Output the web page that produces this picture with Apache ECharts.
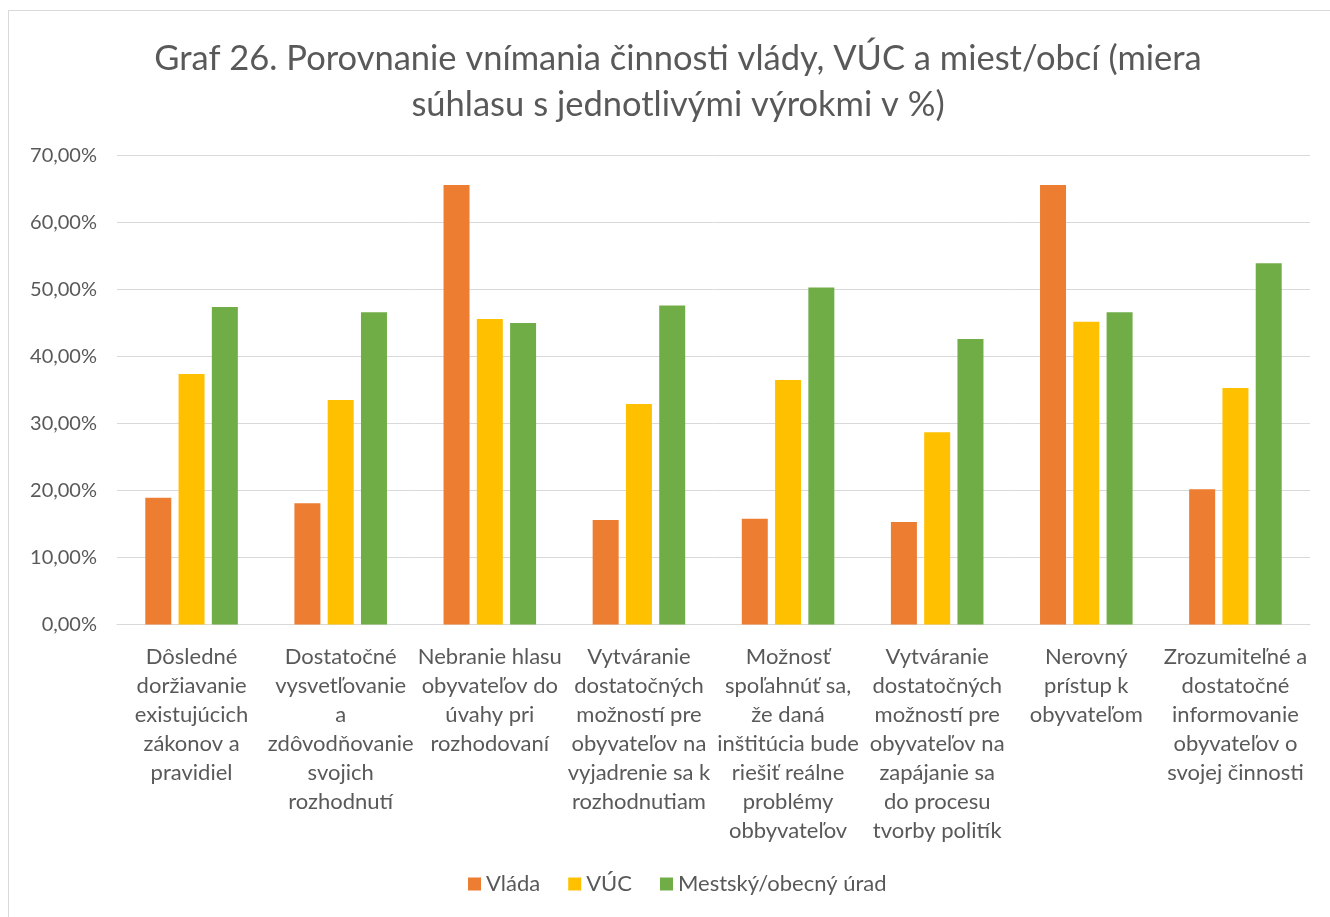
<!DOCTYPE html>
<html>
<head>
<meta charset="utf-8">
<script src="https://cdn.jsdelivr.net/npm/echarts@6/dist/echarts.min.js"></script>
<style>
html,body{margin:0;padding:0;background:#fff;}
#graf{width:1330px;height:917px;}
#ram{position:absolute;left:8px;top:10px;width:1340px;height:920px;border:1px solid #d9d9d9;pointer-events:none;}
</style>
</head>
<body>
<div id="graf"></div>
<div id="ram"></div>
<script>
// kategorie (vyroky)
var kategorie = [
	'Dôsledné\ndoržiavanie\nexistujúcich\nzákonov a\npravidiel',
	'Dostatočné\nvysvetľovanie\na\nzdôvodňovanie\nsvojich\nrozhodnutí',
	'Nebranie hlasu\nobyvateľov do\núvahy pri\nrozhodovaní',
	'Vytváranie\ndostatočných\nmožností pre\nobyvateľov na\nvyjadrenie sa k\nrozhodnutiam',
	'Možnosť\nspoľahnúť sa,\nže daná\ninštitúcia bude\nriešiť reálne\nproblémy\nobbyvateľov',
	'Vytváranie\ndostatočných\nmožností pre\nobyvateľov na\nzapájanie sa\ndo procesu\ntvorby politík',
	'Nerovný\nprístup k\nobyvateľom',
	'Zrozumiteľné a\ndostatočné\ninformovanie\nobyvateľov o\nsvojej činnosti'
];
var vlada = [18.9, 18.1, 65.6, 15.6, 15.8, 15.3, 65.6, 20.2];
var vuc = [37.4, 33.5, 45.6, 32.9, 36.5, 28.7, 45.2, 35.3];
var mesto = [47.4, 46.6, 45.0, 47.6, 50.3, 42.6, 46.6, 53.9];
var nazvy = ['Vláda', 'VÚC', 'Mestský/obecný úrad'];
var farby = ['#ed7d31', '#ffc000', '#70ad47'];

var pismo = 'Lato, "Noto Sans", sans-serif';
var myChart = echarts.init(document.getElementById('graf'));

function seria(i, data){
	return {
		name: nazvy[i],
		type: 'bar',
		data: data,
		barWidth: 26,
		barGap: '28%',
		itemStyle: {color: farby[i]}
	};
}

option = {
	animation: false,
	textStyle: {fontFamily: pismo},
	title: {
		text: 'Graf 26. Porovnanie vnímania činnosti vlády, VÚC a miest/obcí (miera\nsúhlasu s jednotlivými výrokmi v %)',
		left: 673,
		top: 31,
		textAlign: 'center',
		textStyle: {
			fontFamily: pismo,
			fontSize: 34.5,
			fontWeight: 'normal',
			color: '#595959',
			lineHeight: 46
		}
	},
	legend: {
		data: nazvy,
		bottom: 17,
		left: 463,
		itemWidth: 13,
		itemHeight: 13,
		itemGap: 28,
		icon: 'rect',
		textStyle: {fontFamily: pismo, fontSize: 22, color: '#595959'}
	},
	grid: {
		left: 117,
		right: 20,
		top: 155.5,
		bottom: 292.5,
		containLabel: false
	},
	xAxis: {
		type: 'category',
		data: kategorie,
		axisLine: {lineStyle: {color: '#d9d9d9', width: 1}},
		axisTick: {show: false},
		axisLabel: {
			interval: 0,
			margin: 18,
			fontFamily: pismo,
			fontSize: 22,
			lineHeight: 29,
			color: '#595959',
			verticalAlign: 'top'
		}
	},
	yAxis: {
		type: 'value',
		min: 0,
		max: 70,
		interval: 10,
		axisLine: {show: false},
		axisTick: {show: false},
		splitLine: {lineStyle: {color: '#d9d9d9', width: 1}},
		axisLabel: {
			margin: 20,
			fontFamily: pismo,
			fontSize: 20,
			color: '#595959',
			formatter: function(v){ return v.toFixed(2).replace('.', ',') + '%'; }
		}
	},
	series: [seria(0, vlada), seria(1, vuc), seria(2, mesto)]
};
myChart.setOption(option);
</script>
</body>
</html>
